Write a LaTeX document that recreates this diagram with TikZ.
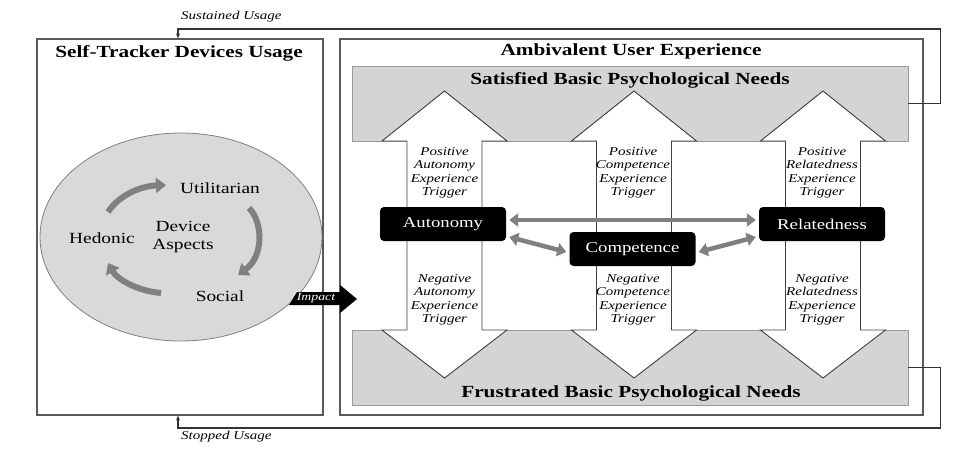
\documentclass[tikz,border=0pt]{standalone}
\usepackage{fontspec}
\setmainfont[FakeStretch=1.25]{Liberation Serif}
\usetikzlibrary{arrows.meta,shapes.geometric}
\definecolor{boxgray}{HTML}{D4D4D4}
\definecolor{ellgray}{HTML}{D9D9D9}
\definecolor{arrgray}{HTML}{808080}
\definecolor{framec}{HTML}{5A5A5A}
\definecolor{edgec}{HTML}{404040}
\begin{document}
\begin{tikzpicture}[x=1pt,y=-1pt,
  frame/.style={draw=framec, line width=1.2pt, fill=white, inner sep=0pt},
  graybox/.style={draw=gray!80, fill=boxgray, line width=0.8pt, inner sep=0pt, minimum width=556pt, minimum height=75pt},
  bigarrow/.style={draw=edgec, line width=0.9pt, fill=white},
  title/.style={font=\fontsize{17}{20}\selectfont\bfseries},
  trig/.style={font=\fontsize{12}{13.5}\selectfont\itshape, align=center, inner sep=0pt},
  need/.style={fill=black, text=white, rounded corners=4pt, minimum width=126pt, minimum height=34pt, font=\fontsize{15}{18}\selectfont, inner sep=0pt},
  aspect/.style={font=\fontsize{15.5}{17.5}\selectfont, align=center, inner sep=0pt},
  conn/.style={draw=arrgray, line width=4.5pt, {Triangle[width=13pt,length=9pt]}-{Triangle[width=13pt,length=9pt]}},
  cyc/.style={draw=arrgray, line width=6pt, -{Triangle[width=15pt,length=10pt]}},
  fb/.style={draw=black!80, line width=1.2pt},
  fbl/.style={font=\fontsize{12}{14}\selectfont\itshape, anchor=west, inner sep=0pt}]
\useasboundingbox (0,0) rectangle (974,460);
\fill[white] (0,0) rectangle (974,460);

% main boxes
\node[frame, minimum width=286pt, minimum height=376pt] (left) at (180,227) {};
\node[frame, minimum width=583pt, minimum height=376pt] (right) at (631.5,227) {};
\node[graybox] (sat) at (630,103.5) {};
\node[graybox] (fru) at (630,367.5) {};

% big double arrows
\foreach \cx in {444.5,634,823}{
  \draw[bigarrow] (\cx,91) -- (\cx+62.5,141) -- (\cx+37.5,141) -- (\cx+37.5,330)
    -- (\cx+62.5,330) -- (\cx,378) -- (\cx-62.5,330) -- (\cx-37.5,330)
    -- (\cx-37.5,141) -- (\cx-62.5,141) -- cycle;
}

% titles
\node[title] (tl) at (179,53) {Self-Tracker Devices Usage};
\node[title] (tr) at (631,51) {Ambivalent User Experience};
\node[title] (ts) at (630,80) {Satisfied Basic Psychological Needs};
\node[title] (tf) at (631,393) {Frustrated Basic Psychological Needs};

% trigger labels
\node[trig] (pa) at (444.5,173) {Positive\\Autonomy\\Experience\\Trigger};
\node[trig] (pc) at (633,173) {Positive\\Competence\\Experience\\Trigger};
\node[trig] (pr) at (822,173) {Positive\\Relatedness\\Experience\\Trigger};
\node[trig] (na) at (444.5,300) {Negative\\Autonomy\\Experience\\Trigger};
\node[trig] (nc) at (633,300) {Negative\\Competence\\Experience\\Trigger};
\node[trig] (nr) at (822,300) {Negative\\Relatedness\\Experience\\Trigger};

% need nodes
\node[need] (aut) at (443,224) {Autonomy};
\node[need] (com) at (632.5,249) {Competence};
\node[need] (rel) at (822,224) {Relatedness};

\draw[conn] ([xshift=3pt,yshift=4pt]aut.east) -- ([xshift=-3pt,yshift=4pt]rel.west);
\draw[conn] ([xshift=3pt,yshift=-13pt]aut.east) -- ([xshift=-3pt,yshift=-3pt]com.west);
\draw[conn] ([xshift=3pt,yshift=-3pt]com.east) -- ([xshift=-3pt,yshift=-13pt]rel.west);

% ellipse of device aspects
\node[ellipse, draw=gray, fill=ellgray, line width=0.8pt, minimum width=282pt, minimum height=208pt, inner sep=0pt] (ell) at (181,237) {};
\node[aspect] (util) at (220,188) {Utilitarian};
\node[aspect] (dev) at (183,237) {Device\\Aspects};
\node[aspect] (hed) at (102,238) {Hedonic};
\node[aspect] (soc) at (220,296) {Social};

\coordinate (h1) at (108,212);
\coordinate (u1) at (166,185);
\coordinate (u2) at (249,208);
\coordinate (s2) at (238,275);
\coordinate (s3) at (161,293);
\coordinate (h3) at (108,263);
\draw[cyc] (h1) .. controls (120,194) and (142,186) .. (u1);
\draw[cyc] (u2) .. controls (263,222) and (264,256) .. (s2);
\draw[cyc] (s3) .. controls (137,291) and (117,279) .. (h3);

% impact arrow
\fill[black] (289,305) -- (297,292) -- (340,292) -- (340,285) -- (357,299) -- (340,313) -- (340,305) -- cycle;
\node[font=\fontsize{11}{12}\selectfont\itshape, text=white, inner sep=0pt] (imp) at (316,298.5) {Impact};

% feedback loops
\coordinate (st) at (178,29);
\coordinate (sb) at (178,428);
\draw[fb, -{Stealth[length=5pt,width=4pt]}] (sat.east) -- ++(32,0) |- (st) -- ([xshift=-2pt]left.north);
\draw[fb, -{Stealth[length=5pt,width=4pt]}] (fru.east) -- ++(32,0) |- (sb) -- ([xshift=-2pt]left.south);
\node[fbl] (sus) at (181,17) {Sustained Usage};
\node[fbl] (stp) at (181,437) {Stopped Usage};
\end{tikzpicture}
\end{document}
